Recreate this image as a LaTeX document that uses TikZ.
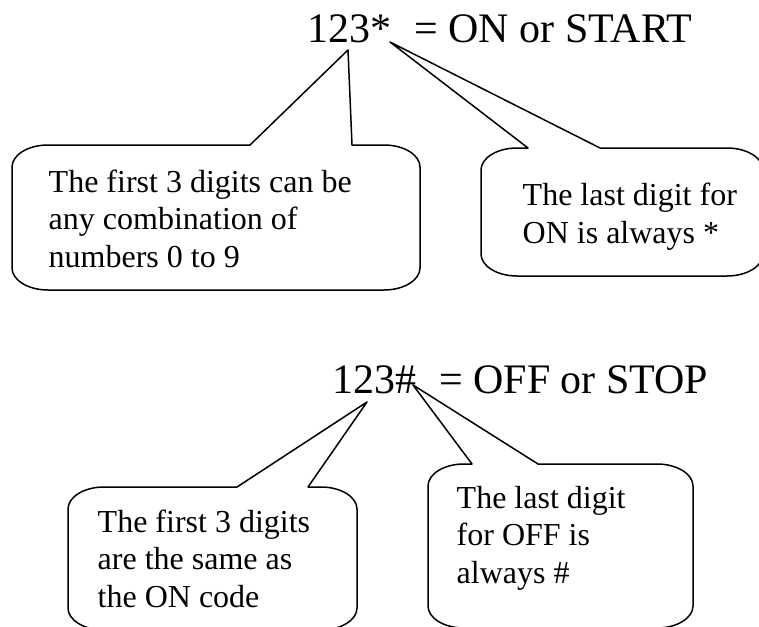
\documentclass[tikz,border=0pt]{standalone}
\usepackage{fontspec}
\setmainfont{Liberation Serif}
\begin{document}
\begin{tikzpicture}[x=1pt,y=-1pt,
  callout/.style={draw=black, line width=1.5pt, fill=white, line join=round},
  body/.style={anchor=base west, inner sep=0pt, align=left, font=\fontsize{32}{37.5}\selectfont},
  title/.style={anchor=base west, inner sep=0pt, font=\fontsize{42}{48}\selectfont}]
\useasboundingbox (0,0) rectangle (759,626);
\clip (0,0) rectangle (759,626);
\coordinate (tip1) at (348,50);
\coordinate (tip2) at (390,42);
\coordinate (tip3) at (367,402);
\coordinate (tip4) at (413,385);
% callout 1
\draw[callout] (250,145) -- (tip1) -- (352,145) -- (384,145) .. controls (404,145) and (420,155) .. (420,167) -- (420,268) .. controls (420,280) and (404,290) .. (384,290) -- (48,290) .. controls (28,290) and (12,280) .. (12,268) -- (12,167) .. controls (12,155) and (28,145) .. (48,145) -- cycle;
% callout 2
\draw[callout] (528,148) -- (tip2) -- (600,148) -- (727,148) .. controls (747,148) and (763,158) .. (763,170) -- (763,254) .. controls (763,266) and (747,276) .. (727,276) -- (517,276) .. controls (497,276) and (481,266) .. (481,254) -- (481,170) .. controls (481,158) and (497,148) .. (517,148) -- cycle;
% callout 3
\draw[callout] (237,487) -- (tip3) -- (308,487) -- (321,487) .. controls (341,487) and (357,497) .. (357,509) -- (357,608) .. controls (357,620) and (341,630) .. (321,630) -- (104,630) .. controls (84,630) and (68,620) .. (68,608) -- (68,509) .. controls (68,497) and (84,487) .. (104,487) -- cycle;
% callout 4
\draw[callout] (472,464) -- (tip4) -- (538,464) -- (657,464) .. controls (677,464) and (693,474) .. (693,486) -- (693,606) .. controls (693,618) and (677,628) .. (657,628) -- (464,628) .. controls (444,628) and (428,618) .. (428,606) -- (428,486) .. controls (428,474) and (444,464) .. (464,464) -- cycle;
% titles
\node[title] (t1a) at (307,43) {123*};
\node[title] (t1b) at (414,43) {= ON or START};
\node[title] (t2a) at (332,393) {123\#};
\node[title] (t2b) at (439,393) {= OFF or STOP};
% callout texts (anchored at the baseline of the last line)
\node[body] (c1) at (48.5,267) {The first 3 digits can be\\any combination of\\numbers 0 to 9};
\node[body] (c2) at (522.5,243) {The last digit for\\ON is always *};
\node[body] (c3) at (97.5,607) {The first 3 digits\\are the same as\\the ON code};
\node[body] (c4) at (456.5,583) {The last digit\\for OFF is\\always \#};
\end{tikzpicture}
\end{document}
